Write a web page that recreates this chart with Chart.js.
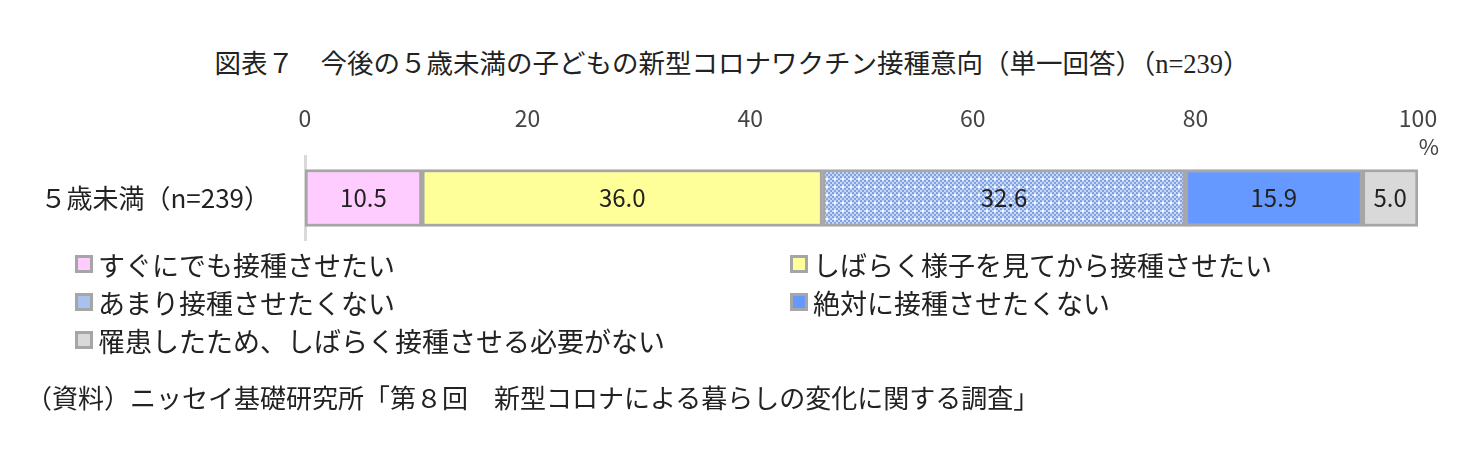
<!DOCTYPE html>
<html lang="ja">
<head>
<meta charset="utf-8">
<script src="https://cdn.jsdelivr.net/npm/chart.js@4.4.1/dist/chart.umd.min.js"></script>
<style>
  html, body { margin: 0; padding: 0; background: #fff; }
  body { width: 1464px; height: 461px; position: relative; overflow: hidden;
         font-family: "Noto Sans CJK JP", sans-serif; color: #222; }
  #wrap { position: absolute; left: 0; top: 0; width: 1464px; height: 461px; }
  .title { position: absolute; left: 0; width: 1464px; top: 42px; text-align: center;
           font-family: "Liberation Serif", "Noto Sans CJK JP", serif; font-size: 26.5px; padding-left: 0px; }
  .legend { position: absolute; left: 75px; top: 246px; width: 1400px; font-size: 27px; }
  .legend .item { position: absolute; white-space: nowrap; display: flex; align-items: center; height: 36px; }
  .legend .box { width: 12px; height: 12px; border: 3px solid #a6a6a6; margin-right: 5px; }
  .source { position: absolute; left: 26px; top: 378px; font-size: 26px; }
</style>
</head>
<body>
<div class="title">図表７　今後の５歳未満の子どもの新型コロナワクチン接種意向（単一回答）（n=239）</div>
<div id="wrap"><canvas id="chart" width="1464" height="461"></canvas></div>
<div class="legend" id="legend"></div>
<div class="source">（資料）ニッセイ基礎研究所「第８回　新型コロナによる暮らしの変化に関する調査」</div>
<script>
const categories = ['５歳未満（n=239）'];
const seriesNames = [
  'すぐにでも接種させたい',
  'しばらく様子を見てから接種させたい',
  'あまり接種させたくない',
  '絶対に接種させたくない',
  '罹患したため、しばらく接種させる必要がない'
];
const seriesValues = [
  [10.5],
  [36.0],
  [32.6],
  [15.9],
  [5.0]
];
const xTicks = [0, 20, 40, 60, 80, 100];

// checkered blue pattern for the third series
const makePattern = () => {
  const c = document.createElement('canvas');
  c.width = 8; c.height = 8;
  const g = c.getContext('2d');
  g.fillStyle = '#c9d8f6';
  g.fillRect(0, 0, 8, 8);
  g.fillStyle = '#7fa2e4';
  for (let y = 0; y < 8; y += 2) {
    for (let x = 0; x < 8; x += 2) {
      if (((x + y) / 2) % 2 === 0) g.fillRect(x, y, 2, 2);
    }
  }
  g.fillStyle = '#ffffff';
  g.fillRect(2, 2, 2, 2);
  return g.createPattern(c, 'repeat');
};

const colors = ['#ffccff', '#ffff99', makePattern(), '#6699ff', '#d9d9d9'];
const legendSwatch = ['#ffccff', '#ffff99', '#a9c1ee', '#6699ff', '#d9d9d9'];

const datasets = seriesNames.map((name, i) => ({
  label: name,
  data: seriesValues[i],
  backgroundColor: colors[i],
  borderColor: '#a6a6a6',
  borderWidth: 3,
  borderSkipped: false,
  barThickness: 57
}));

// value labels in the middle of every segment, and the % sign under 100
const barLabels = {
  id: 'barLabels',
  afterDatasetsDraw(chart) {
    const ctx = chart.ctx;
    ctx.save();
    ctx.font = '24px "Noto Sans CJK JP", sans-serif';
    ctx.fillStyle = '#222';
    ctx.textAlign = 'center';
    ctx.textBaseline = 'middle';
    chart.data.datasets.forEach((ds, i) => {
      chart.getDatasetMeta(i).data.forEach((bar, j) => {
        const p = bar.getProps(['x', 'y', 'base']);
        ctx.fillText(ds.data[j].toFixed(1), (p.x + p.base) / 2, p.y);
      });
    });
    const xs = chart.scales.x;
    ctx.font = '22px "Noto Sans CJK JP", sans-serif';
    ctx.fillStyle = '#444';
    ctx.fillText('%', xs.getPixelForValue(100) + 11, 147);
    ctx.restore();
  }
};

const chart = new Chart(document.getElementById('chart'), {
  type: 'bar',
  data: { labels: categories, datasets: datasets },
  plugins: [barLabels],
  options: {
    responsive: false,
    animation: false,
    indexAxis: 'y',
    layout: { padding: { left: 0, right: 46, top: 103, bottom: 221 } },
    plugins: { legend: { display: false }, tooltip: { enabled: false } },
    scales: {
      x: {
        position: 'top',
        stacked: true,
        min: 0,
        max: 100,
        afterBuildTicks: (s) => { s.ticks = xTicks.map(v => ({ value: v })); },
        afterFit: (s) => { s.height = 53; },
        grid: { display: false, drawTicks: false },
        border: { display: false },
        ticks: { padding: 24, color: '#444', font: { size: 23, family: '"Noto Sans CJK JP", sans-serif' } }
      },
      y: {
        stacked: true,
        afterFit: (s) => { s.width = 305; },
        grid: { display: false, drawTicks: false },
        border: { display: true, color: '#d9d9d9', width: 3 },
        ticks: { padding: 35, color: '#222', font: { size: 26, family: '"Noto Sans CJK JP", sans-serif' } }
      }
    }
  }
});

// legend in two columns
const legendPos = [[0, 0], [715, 0], [0, 38], [715, 38], [0, 76]];
const legendEl = document.getElementById('legend');
seriesNames.forEach((name, i) => {
  const item = document.createElement('div');
  item.className = 'item';
  item.style.left = legendPos[i][0] + 'px';
  item.style.top = legendPos[i][1] + 'px';
  const box = document.createElement('span');
  box.className = 'box';
  box.style.background = legendSwatch[i];
  item.appendChild(box);
  item.appendChild(document.createTextNode(name));
  legendEl.appendChild(item);
});
</script>
</body>
</html>
